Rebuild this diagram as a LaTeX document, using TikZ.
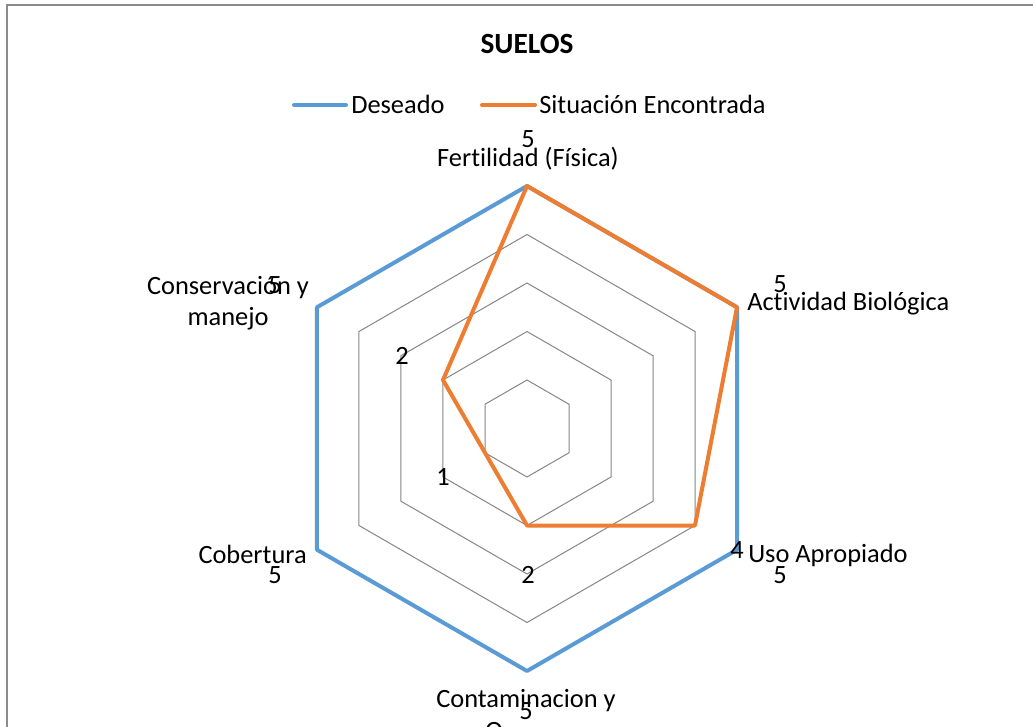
\documentclass[tikz,border=0pt]{standalone}
\usepackage{fontspec}
\setmainfont{Carlito}[Ligatures=NoCommon]

\begin{document}
\begin{tikzpicture}[x=0.75pt,y=0.75pt,yscale=-1,xscale=1,
  gridline/.style={draw={rgb, 255:red, 134; green, 134; blue, 134 },line width=0.75pt},
  deseado/.style={draw={rgb, 255:red, 91; green, 155; blue, 213 },line width=3pt,line join=round},
  situacion/.style={draw={rgb, 255:red, 237; green, 125; blue, 49 },line width=3pt,line join=round},
  lbl/.style={inner sep=0pt,font=\fontsize{19.8}{24}\selectfont},
  val/.style={inner sep=0pt,anchor=base,font=\fontsize{19.8}{24}\selectfont}]
\useasboundingbox (0,0) rectangle (1033,726);
\clip (0,0) rectangle (1033,726);

%Shape: Rectangle (chart frame)
\draw [draw={rgb, 255:red, 140; green, 140; blue, 140 },line width=1.2pt] (7,5) rectangle (1045,740);

% Text Node
\node [anchor=base,inner sep=0pt,font=\fontsize{22}{24}\selectfont\bfseries] (titulo) at (527,53) {SUELOS};

%Legend
\coordinate (ld1) at (294,105);
\coordinate (ld2) at (346,105);
\draw [deseado,line cap=round] (ld1) -- (ld2);
\node [lbl,anchor=base west] (legDes) at (351,113) {Deseado};
\coordinate (ls1) at (482,105);
\coordinate (ls2) at (535,105);
\draw [situacion,line cap=round] (ls1) -- (ls2);
\node [lbl,anchor=base west] (legSit) at (539,113) {Situación Encontrada};

\begin{scope}[shift={(527,428.5)}]
%Shape: Hexagon grid
\foreach \r in {1,...,4}
  \draw [gridline] (-90:{\r*48.5}) -- (-30:{\r*48.5}) -- (30:{\r*48.5}) -- (90:{\r*48.5}) -- (150:{\r*48.5}) -- (210:{\r*48.5}) -- cycle;

%Series: Deseado
\coordinate (d1) at (-90:242.5);
\coordinate (d2) at (-30:242.5);
\coordinate (d3) at (30:242.5);
\coordinate (d4) at (90:242.5);
\coordinate (d5) at (150:242.5);
\coordinate (d6) at (210:242.5);
\draw [deseado] (d1) -- (d2) -- (d3) -- (d4) -- (d5) -- (d6) -- cycle;

%Series: Situacion Encontrada
\coordinate (s1) at (-90:242.5);
\coordinate (s2) at (-30:242.5);
\coordinate (s3) at (30:194);
\coordinate (s4) at (90:97);
\coordinate (s5) at (150:48.5);
\coordinate (s6) at (210:97);
\draw [situacion] (s1) -- (s2) -- (s3) -- (s4) -- (s5) -- (s6) -- cycle;
\end{scope}

% Text Node
\node [lbl,anchor=base] (fert) at (528,166) {Fertilidad (Física)};
\node [lbl,anchor=base west] (activ) at (747,310) {Actividad Biológica};
\node [lbl,anchor=base west] (uso) at (748,562) {Uso Apropiado};
\node [lbl,anchor=base] (contam) at (526,707) {Contaminacion y};
\node [lbl,anchor=base west] (contamB) at (485,739) {O};
\node [lbl,anchor=base east] (cobert) at (307,563) {Cobertura};
\node [lbl,anchor=base] (conserv) at (228,294) {Conservación y};
\node [lbl,anchor=base] (conservB) at (228,325) {manejo};

% Text Node (values)
\node [val] (vFert) at (528,147) {5};
\node [val] (vActiv) at (780,292) {5};
\node [val] (vUsoS) at (737,558) {4};
\node [val] (vUsoD) at (780,583) {5};
\node [val] (vContamS) at (528,583) {2};
\node [val] (vContamD) at (526,719) {5};
\node [val] (vCobertS) at (443,485) {1};
\node [val] (vCobertD) at (275,583) {5};
\node [val] (vConservS) at (402,364) {2};
\node [val] (vConservD) at (275,293) {5};

\end{tikzpicture}
\end{document}
